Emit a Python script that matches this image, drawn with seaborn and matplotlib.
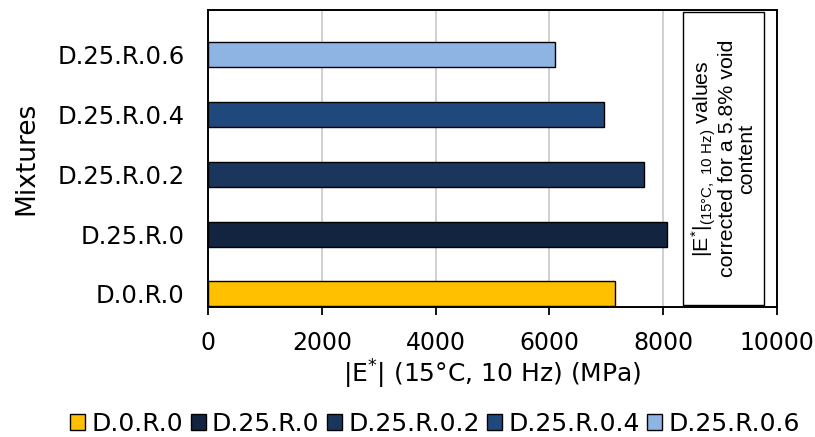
import matplotlib
matplotlib.use("Agg")
import matplotlib.pyplot as plt
import matplotlib.transforms as mtransforms
from matplotlib.patches import Rectangle
import seaborn as sns
import pandas as pd

# ---- data ----
mixtures = ["D.0.R.0", "D.25.R.0", "D.25.R.0.2", "D.25.R.0.4", "D.25.R.0.6"]
modulus = [7160, 8060, 7660, 6960, 6100]
colors = ["#FFC000", "#12243F", "#1A365D", "#1F497D", "#8EB4E3"]
xticks = [0, 2000, 4000, 6000, 8000, 10000]
xlabel = "|E$^{*}$| (15°C, 10 Hz) (MPa)"
ylabel = "Mixtures"
note = "|E$^{*}$|$_{(15°C,\\ 10\\ Hz)}$ values\ncorrected for a 5.8% void\ncontent"
note_box = [8340, 9766]

sns.set_theme(style="white")
plt.rcParams["font.family"] = ["DejaVu Sans"]
plt.rcParams["mathtext.default"] = "regular"
plt.rcParams["text.color"] = "black"
plt.rcParams["axes.labelcolor"] = "black"
plt.rcParams["xtick.color"] = "black"
plt.rcParams["ytick.color"] = "black"

df = pd.DataFrame({"Mixture": mixtures, "E": modulus})
palette = dict(zip(mixtures, colors))
order = mixtures[::-1]  # top to bottom

fig = plt.figure(figsize=(8.15, 4.37), dpi=100)
ax = fig.add_axes([0.2552, 0.2975, 0.6982, 0.6795])

sns.barplot(data=df, x="E", y="Mixture", hue="Mixture", order=order,
            hue_order=mixtures, palette=palette, dodge=False, width=0.42,
            edgecolor="black", linewidth=1.0, saturation=1, ax=ax,
            legend=True)

ax.set_xlim(0, 10000)
ax.set_ylim(4.22, -0.75)
ax.set_xticks(xticks)
ax.set_xticklabels([str(t) for t in xticks], fontsize=17)
ax.tick_params(axis="x", direction="out", length=6, width=1.3, color="black",
               bottom=True, pad=11)
ax.tick_params(axis="y", length=0, labelsize=17.5, pad=17)
ax.xaxis.grid(True, color="#C8C8C8", linewidth=1.2)
ax.set_axisbelow(True)
for s in ax.spines.values():
    s.set_visible(True)
    s.set_color("black")
    s.set_linewidth(1.4)

ax.set_xlabel(xlabel, fontsize=18, labelpad=2)
ax.set_ylabel(ylabel, fontsize=19, labelpad=13)

# note box
trans = mtransforms.blended_transform_factory(ax.transData, ax.transAxes)
ax.add_patch(Rectangle((note_box[0], 0.007), note_box[1] - note_box[0], 0.988,
                       transform=trans, facecolor="white", edgecolor="black",
                       linewidth=1.0, zorder=5))
ax.text((note_box[0] + note_box[1]) / 2, 0.5, note, transform=trans,
        rotation=90, ha="center", va="center", fontsize=15.4,
        family=["Liberation Sans", "DejaVu Sans"], linespacing=1.0,
        multialignment="center", zorder=6)

# legend at bottom of figure
handles, labels = ax.get_legend_handles_labels()
ax.get_legend().remove()
fig.legend(handles, labels, loc="center", bbox_to_anchor=(0.534, 0.03),
           ncol=5, frameon=False, fontsize=18, handlelength=0.6,
           handleheight=0.6, handletextpad=0.25, columnspacing=0.3,
           borderaxespad=0.0, borderpad=0.0)

fig.savefig("out.png", dpi=100)
